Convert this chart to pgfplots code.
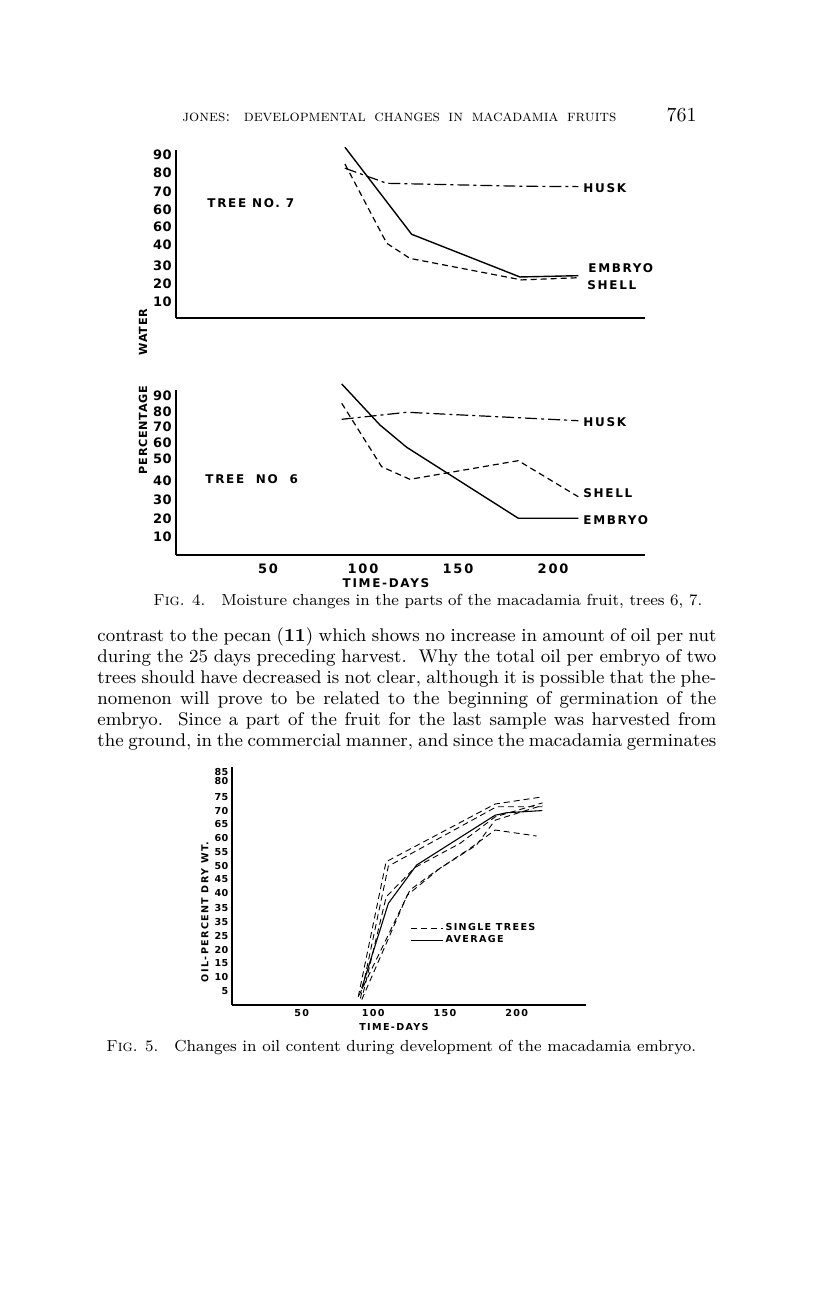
\documentclass[border=0pt]{standalone}
\usepackage{fontspec}
\usepackage{pgfplots}
\pgfplotsset{compat=1.18}
\newfontfamily\lbl[LetterSpace=14]{DejaVu Sans}
\newfontfamily\tkf[LetterSpace=3]{DejaVu Sans}
\newfontfamily\rlf[LetterSpace=6]{DejaVu Sans}
\newcommand\lf[1]{\lbl\bfseries\fontsize{#1}{#1}\selectfont}
\newcommand\tf[1]{\tkf\bfseries\fontsize{#1}{#1}\selectfont}
\newcommand\rf[1]{\rlf\bfseries\fontsize{#1}{#1}\selectfont}

\pgfplotsset{
  fig/.style={
    scale only axis,
    anchor=south west,
    axis x line*=bottom,
    axis y line*=left,
    axis line style={line width=1pt, black},
    major tick length=0pt,
    clip=false,
    ymin=0,
    yticklabel style={inner sep=2pt},
    xticklabel style={inner sep=0pt, anchor=north},
  },
  embryo/.style={black, line width=0.7pt},
  shell/.style={black, line width=0.6pt, dash pattern=on 3pt off 2pt},
  husk/.style={black, line width=0.6pt, dash pattern=on 6pt off 2pt on 1.5pt off 2pt},
}

\begin{document}
\begin{tikzpicture}
\useasboundingbox (0,0) rectangle (408pt,-645.5pt);
\fill[white] (0,0) rectangle (408pt,-645.5pt);

\begin{scope}[x=0.5pt,y=-0.5pt]
  % running head
  \node[anchor=base west, inner sep=0pt] at (182,121)
    {\fontsize{8}{9}\selectfont\makebox[217pt][s]{\textsc{jones: developmental changes in macadamia fruits}}};
  \node[anchor=base east, inner sep=0pt] at (697,121) {\fontsize{10}{12}\selectfont 761};

  % fig 4 labels
  \node[anchor=west, inner sep=0pt] at (207,203) {\lf{6}TREE NO. 7};
  \node[anchor=west, inner sep=0pt] at (205,479) {\lf{6}TREE\ \ NO\ \ 6};
  \node[anchor=west, inner sep=0pt] at (583,188) {\lf{6}HUSK};
  \node[anchor=west, inner sep=0pt] at (588,268) {\lf{6}EMBRYO};
  \node[anchor=west, inner sep=0pt] at (587,285) {\lf{6}SHELL};
  \node[anchor=west, inner sep=0pt] at (583,422) {\lf{6}HUSK};
  \node[anchor=west, inner sep=0pt] at (583,493) {\lf{6}SHELL};
  \node[anchor=west, inner sep=0pt] at (583,520) {\lf{6}EMBRYO};
  \node[rotate=90, inner sep=0pt] at (143,430) {\rf{5.6}PERCENTAGE};
  \node[rotate=90, inner sep=0pt] at (143,332) {\rf{5.6}WATER};
  \node[inner sep=0pt] at (386,583) {\lf{6}TIME-DAYS};
  \node[anchor=base west, inner sep=0pt] at (153,605)
    {\fontsize{8}{9}\selectfont\textsc{Fig}. 4.\quad Moisture changes in the parts of the macadamia fruit, trees 6, 7.};

  % body text
  \begin{scope}[every node/.style={anchor=base west, inner sep=0pt, font=\fontsize{9.2}{11}\selectfont}]
    \node at (97,641) {\makebox[309.5pt][s]{contrast to the pecan (\textbf{11}) which shows no increase in amount of oil per nut}};
    \node at (97,662) {\makebox[309.5pt][s]{during the 25 days preceding harvest.\ \ Why the total oil per embryo of two}};
    \node at (97,683) {\makebox[309.5pt][s]{trees should have decreased is not clear, although it is possible that the phe-}};
    \node at (97,704) {\makebox[309.5pt][s]{nomenon will prove to be related to the beginning of germination of the}};
    \node at (97,725) {\makebox[309.5pt][s]{embryo.\ \ Since a part of the fruit for the last sample was harvested from}};
    \node at (97,746) {\makebox[309.5pt][s]{the ground, in the commercial manner, and since the macadamia germinates}};
  \end{scope}

  % fig 5 labels
  \node[rotate=90, inner sep=0pt] at (205,912) {\lf{4.8}OIL-PERCENT DRY WT.};
  \node[inner sep=0pt] at (394,1027) {\lf{4.8}TIME-DAYS};
  \node[anchor=base west, inner sep=0pt] at (106,1051)
    {\fontsize{8}{9}\selectfont\textsc{Fig}. 5.\quad Changes in oil content during development of the macadamia embryo.};
\end{scope}

% Fig. 4, tree no. 7
\begin{axis}[fig, at={(88pt,-159pt)}, width=234.5pt, height=84pt,
  xmin=1.6, xmax=248.4, ymax=91.3, xtick=\empty,
  ytick={8.7,18.5,28.3,39.7,49.5,58.7,68.5,78.8,88.6},
  yticklabels={10,20,30,40,60,60,70,80,90},
  tick label style={font=\tf{6.5}}]
\addplot[embryo] coordinates {(90.5,92.8) (125.6,45.5) (182.6,22.3) (213.3,23.0)};
\addplot[shell] coordinates {(90.5,83.7) (112.5,40.6) (124.7,32.4) (183.5,20.7) (213.3,21.9)};
\addplot[husk] coordinates {(90.5,81.4) (112.5,73.2) (183,71.6) (213.3,71.4)};
\end{axis}

% Fig. 4, tree no. 6
\begin{axis}[fig, at={(88pt,-277.5pt)}, width=234.5pt, height=82.5pt,
  xmin=1.6, xmax=248.4, ymax=93.75,
  xtick={50,100,150,200}, xticklabels={50,100,150,200},
  ytick={10.2,20.5,31.25,42,54.5,63.6,72.7,81.3,90.3},
  yticklabels={10,20,30,40,50,60,70,80,90},
  tick label style={font=\tf{6.5}},
  xticklabel style={font=\lf{6.5}, yshift=-4pt}]
\addplot[embryo] coordinates {(88.8,97.2) (108.9,73.9) (123,61.2) (181.7,20.9) (213.3,20.9)};
\addplot[shell] coordinates {(88.8,86.2) (109.8,50.2) (124.7,43) (181.7,53.6) (213.3,33.1)};
\addplot[husk] coordinates {(88.8,77.1) (123,81.1) (181.7,78) (213.3,76.3)};
\end{axis}

% Fig. 5
\begin{axis}[fig, at={(115.85pt,-502.5pt)}, width=177.15pt, height=119pt,
  xmin=1.2, xmax=248.4, ymax=86.9,
  xtick={50,100,150,200}, xticklabels={50,100,150,200},
  ytick={5.1,10.1,15.2,20.1,25.2,30.4,35.5,40.8,45.9,50.7,55.7,60.8,66.1,70.9,76.0,81.8,84.9},
  yticklabels={5,10,15,20,25,35,35,40,45,50,55,60,65,70,75,80,85},
  tick label style={font=\tf{4.8}},
  yticklabel style={inner sep=1.5pt},
  xticklabel style={yshift=-2pt, font=\lf{4.8}},
  legend image code/.code={\draw[#1] (0pt,0pt) -- (16pt,0pt);},
  legend style={at={(axis cs:125.6,25.9)}, anchor=west, draw=none, fill=none,
    font=\lf{4.8}, inner sep=0pt, row sep=-1pt, nodes={inner sep=1pt}},
  legend cell align=left]
\addplot[shell, line width=0.45pt] coordinates {(89.5,3.0) (108.9,52.3) (185,73.4) (218,76.0)};
\addlegendentry{SINGLE TREES}
\addplot[embryo, line width=0.55pt] coordinates {(91.9,6.1) (110.5,37.1) (130.2,51.1) (185,69.3) (193,70.2) (218,71.0)};
\addlegendentry{AVERAGE}
\addplot[shell, line width=0.45pt, forget plot] coordinates {(91,2.4) (110.5,50.7) (186,72.4) (218,72.4)};
\addplot[shell, line width=0.45pt, forget plot] coordinates {(93,4.5) (109,39.5) (129,50.2) (160.5,59) (185,68.7) (218,73.8)};
\addplot[shell, line width=0.45pt, forget plot] coordinates {(90,3.5) (125.6,42) (143,48.7) (167.5,57.2) (185,63.9) (214,61.7)};
\addplot[shell, line width=0.45pt, forget plot] coordinates {(92,2) (123.7,40.1) (146.5,49.9) (172,58.4) (185,67.5) (218,72.9)};
\end{axis}
\end{tikzpicture}
\end{document}
